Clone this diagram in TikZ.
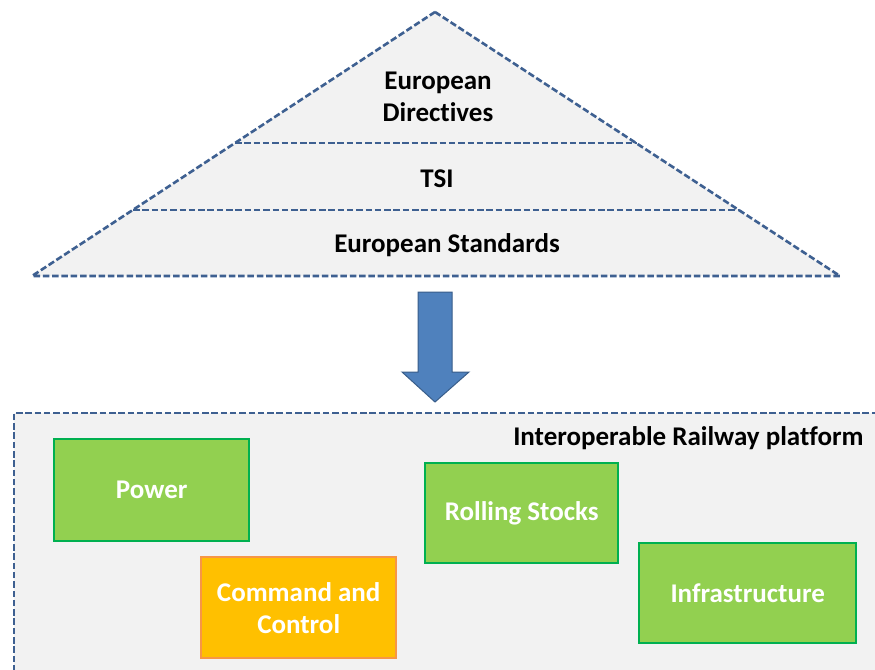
\documentclass[tikz,border=0pt]{standalone}
\usepackage{fontspec}
\setmainfont{Carlito}[Ligatures=NoCommon]
\begin{document}
\begin{tikzpicture}[x=1pt,y=-1pt,
  dashblue/.style={draw=dblue,line width=2.6pt,dash pattern=on 6.5pt off 2.8pt},
  lbl/.style={font=\bfseries\fontsize{27}{32}\selectfont,text=black,align=center},
  wlbl/.style={font=\bfseries\fontsize{27}{32}\selectfont,text=white,align=center},
  gbox/.style={draw=boxgreenline,fill=boxgreen,line width=2.4pt,anchor=north west,inner sep=0pt},
  obox/.style={draw=boxorangeline,fill=boxorange,line width=2.4pt,anchor=north west,inner sep=0pt}]
\definecolor{dblue}{RGB}{62,96,145}
\definecolor{lgray}{RGB}{242,242,242}
\definecolor{boxgreen}{RGB}{146,208,80}
\definecolor{boxgreenline}{RGB}{0,176,80}
\definecolor{boxorange}{RGB}{255,192,0}
\definecolor{boxorangeline}{RGB}{247,150,70}
\definecolor{arrfill}{RGB}{79,129,189}
\definecolor{arrline}{RGB}{56,93,138}
\clip (0,0) rectangle (875,669);
\fill[white] (0,0) rectangle (875,669);
% pyramid
\coordinate (apex) at (435,12);
\coordinate (bl) at (32,276);
\coordinate (br) at (840,276);
\coordinate (l1) at (235,143);
\coordinate (r1) at (637,143);
\coordinate (l2) at (133,210);
\coordinate (r2) at (739,210);
\fill[lgray] (apex) -- (br) -- (bl) -- cycle;
\draw[dashblue] (apex) -- (br) -- (bl) -- cycle;
\draw[dashblue] (l1) -- (r1);
\draw[dashblue] (l2) -- (r2);
\node[lbl] (dir) at (438,97) {European\\Directives};
\node[lbl] (tsi) at (437,179) {TSI};
\node[lbl] (std) at (447,245) {European Standards};
% arrow
\fill[arrfill,draw=arrline,line width=1pt] (418,292) -- (452,292) -- (452,372) -- (469,372) -- (435,402) -- (402,372) -- (418,372) -- cycle;
% platform
\fill[lgray] (14,413) rectangle (890,690);
\draw[dashblue] (14,690) -- (14,413) -- (890,413);
\node[lbl,anchor=east] (plat) at (867,438) {Interoperable Railway platform};
\node[gbox,minimum width=195pt,minimum height=102pt] (power) at (53,438) {};
\node[wlbl] at (power.center) {Power};
\node[gbox,minimum width=193pt,minimum height=100pt] (rolling) at (424,462) {};
\node[wlbl] at (rolling.center) {Rolling Stocks};
\node[gbox,minimum width=217pt,minimum height=100pt] (infra) at (638,542) {};
\node[wlbl] at (infra.center) {Infrastructure};
\node[obox,minimum width=195pt,minimum height=101pt] (cmd) at (200,556) {};
\node[wlbl] at (cmd.center) {Command and\\Control};
\end{tikzpicture}
\end{document}
